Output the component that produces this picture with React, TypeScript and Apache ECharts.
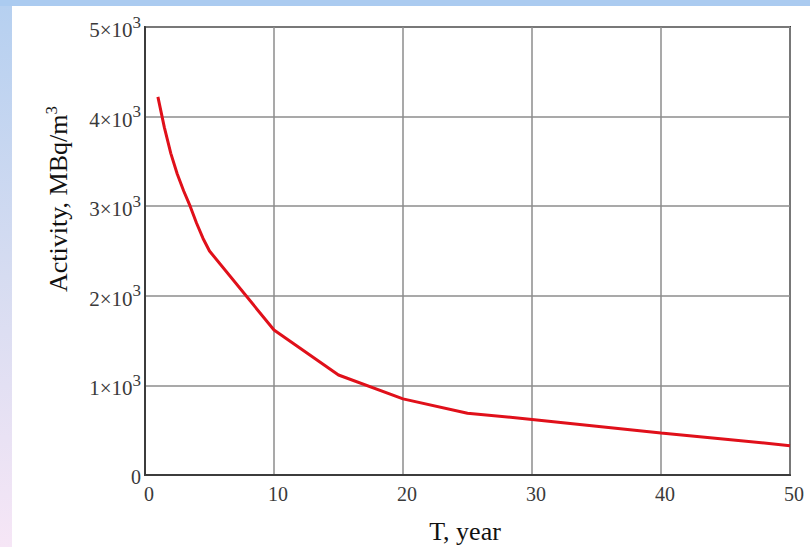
import React, { useEffect, useRef } from "react";
import * as echarts from "echarts";

const years = [1, 1.5, 2, 2.5, 3, 3.5, 4, 4.5, 5, 10, 15, 20, 25, 30, 35, 40, 45, 50];
const activity = [4220, 3880, 3590, 3360, 3170, 3000, 2810, 2640, 2500, 1618, 1116, 850, 690, 620, 545, 470, 400, 327];
const xTicks = [0, 10, 20, 30, 40, 50];
const yTicks = [0, 1000, 2000, 3000, 4000, 5000];
const xTitle = "T, year";
const yTitle = "Activity, MBq/m";

const SERIF = "'Liberation Serif', 'DejaVu Serif', serif";

export default function App() {
  const ref = useRef<HTMLDivElement>(null);
  useEffect(() => {
    if (!ref.current) return;
    const chart = echarts.init(ref.current, null, { renderer: "svg" });
    chart.setOption({
      animation: false,
      backgroundColor: "#ffffff",
      graphic: [
        { type: "rect", left: 0, top: 0, shape: { width: 810, height: 6 }, style: { fill: "#abcbf0" }, silent: true },
        {
          type: "rect",
          left: 0,
          top: 6,
          shape: { width: 12, height: 541 },
          style: {
            fill: new echarts.graphic.LinearGradient(0, 0, 0, 1, [
              { offset: 0, color: "#b6d0f0" },
              { offset: 0.5, color: "#d6dcf1" },
              { offset: 1, color: "#f6e6f6" },
            ]),
          },
          silent: true,
        },
        {
          type: "text",
          x: 465,
          y: 531,
          style: {
            text: xTitle,
            font: `26px ${SERIF}`,
            fill: "#111111",
            textAlign: "center",
            textVerticalAlign: "middle",
          },
        },
        {
          type: "text",
          x: 58,
          y: 199,
          rotation: Math.PI / 2,
          style: {
            text: `{m|${yTitle}}{s|3}`,
            textAlign: "center",
            textVerticalAlign: "middle",
            fill: "#111111",
            rich: {
              m: { fontSize: 26, fontFamily: SERIF, fill: "#111111", lineHeight: 30 },
              s: { fontSize: 17, fontFamily: SERIF, fill: "#111111", padding: [0, 0, 14, 0] },
            },
          },
        },
      ],
      grid: {
        left: 145,
        top: 27,
        right: 20,
        bottom: 72,
        show: true,
        borderColor: "#3c3c3c",
        borderWidth: 2,
        backgroundColor: "transparent",
      },
      xAxis: {
        type: "value",
        min: xTicks[0],
        max: xTicks[xTicks.length - 1],
        interval: 10,
        axisLine: { show: true, lineStyle: { color: "#3c3c3c", width: 2 } },
        axisTick: { show: false },
        splitLine: { show: true, lineStyle: { color: "#8c8c8c", width: 1.5 } },
        axisLabel: {
          color: "#3a3a3a",
          fontSize: 20,
          fontFamily: SERIF,
          margin: 9,
          padding: [0, 0, 0, 8],
          formatter: (v: number) => String(v),
        },
      },
      yAxis: {
        type: "value",
        min: yTicks[0],
        max: yTicks[yTicks.length - 1],
        interval: 1000,
        axisLine: { show: true, lineStyle: { color: "#3c3c3c", width: 2 } },
        axisTick: { show: false },
        splitLine: { show: true, lineStyle: { color: "#8c8c8c", width: 1.5 } },
        axisLabel: {
          color: "#3a3a3a",
          fontSize: 20,
          fontFamily: SERIF,
          margin: 4,
          formatter: (v: number) => (v === 0 ? "{z|0}" : `{b|${v / 1000}×10}{s|3}`),
          rich: {
            z: { fontSize: 20, fontFamily: SERIF, color: "#3a3a3a", padding: [4, 0, 0, 0] },
            b: { fontSize: 21, fontFamily: SERIF, color: "#3a3a3a", padding: [6, 0, 0, 0] },
            s: { fontSize: 17, fontFamily: SERIF, color: "#3a3a3a", padding: [0, 0, 10, 0] },
          },
        },
      },
      series: [
        {
          type: "line",
          data: years.map((t, i) => [t, activity[i]]),
          showSymbol: false,
          symbol: "none",
          lineStyle: { color: "#e0101a", width: 3 },
          z: 5,
        },
      ],
    });
    return () => chart.dispose();
  }, []);
  return (
    <div
      ref={ref}
      style={{ position: "absolute", left: 0, top: 0, width: 810, height: 547 }}
    />
  );
}
